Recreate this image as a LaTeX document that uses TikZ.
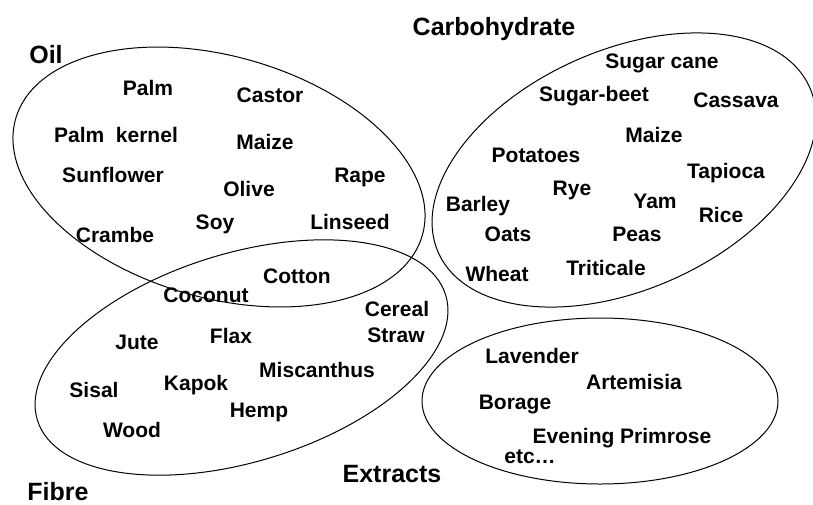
\documentclass[tikz,border=0pt]{standalone}
\usepackage{fontspec}
\setmainfont{Liberation Sans}
\begin{document}
\begin{tikzpicture}[x=1pt,y=-1pt,
  item/.style={anchor=base,inner sep=0pt,font=\fontsize{21}{24}\selectfont\bfseries},
  group/.style={anchor=base,inner sep=0pt,font=\fontsize{25}{28}\selectfont\bfseries},
  ring/.style={draw=black,line width=1pt}]
\useasboundingbox[fill=white] (0,0) rectangle (813,504);
% ellipses
\draw[ring,rotate around={-16:(219,177)}] (219,177) ellipse [x radius=211.5,y radius=120.8];
\draw[ring,rotate around={17:(241.5,357.5)}] (241.5,357.5) ellipse [x radius=213.5,y radius=104.3];
\draw[ring,rotate around={24:(624,170)}] (624,170) ellipse [x radius=203.2,y radius=119.7];
\draw[ring] (600,401) ellipse [x radius=178,y radius=83];
% group labels
\node[group] (oil) at (46,63) {Oil};
\node[group] (carb) at (494,35) {Carbohydrate};
\node[group] (extr) at (392,482) {Extracts};
\node[group] (fibre) at (58,500) {Fibre};
% oil
\node[item] (palm) at (148,95) {Palm};
\node[item] (castor) at (270,102) {Castor};
\node[item] (palmk) at (116,142) {Palm\ \ kernel};
\node[item] (maizeo) at (265,149) {Maize};
\node[item] (sunfl) at (113,182) {Sunflower};
\node[item] (rape) at (360,182) {Rape};
\node[item] (olive) at (249,196) {Olive};
\node[item] (soy) at (215,229) {Soy};
\node[item] (linseed) at (350,229) {Linseed};
\node[item] (crambe) at (115,242) {Crambe};
\node[item] (cotton) at (297,283) {Cotton};
\node[item] (coconut) at (206,302) {Coconut};
% fibre
\node[item] (cereal) at (397,316) {Cereal};
\node[item] (straw) at (396,342) {Straw};
\node[item] (jute) at (137,349) {Jute};
\node[item] (flax) at (231,343) {Flax};
\node[item] (misc) at (317,377) {Miscanthus};
\node[item] (sisal) at (94,397) {Sisal};
\node[item] (kapok) at (196,390) {Kapok};
\node[item] (hemp) at (259,417) {Hemp};
\node[item] (wood) at (132,437) {Wood};
% carbohydrate
\node[item] (sugarc) at (662,68) {Sugar cane};
\node[item] (sugarb) at (594,101) {Sugar-beet};
\node[item] (cassava) at (736,107) {Cassava};
\node[item] (maizec) at (654,142) {Maize};
\node[item] (potatoes) at (536,162) {Potatoes};
\node[item] (tapioca) at (726,178) {Tapioca};
\node[item] (rye) at (572,195) {Rye};
\node[item] (barley) at (478,211) {Barley};
\node[item] (yam) at (655,208) {Yam};
\node[item] (rice) at (721,222) {Rice};
\node[item] (oats) at (508,241) {Oats};
\node[item] (peas) at (637,241) {Peas};
\node[item] (wheat) at (497,281) {Wheat};
\node[item] (triticale) at (606,275) {Triticale};
% extracts
\node[item] (lavender) at (532,363) {Lavender};
\node[item] (artemisia) at (634,389) {Artemisia};
\node[item] (borage) at (515,409) {Borage};
\node[item] (evening) at (622,443) {Evening Primrose};
\node[item] (etc) at (530,463) {etc\ldots};
\end{tikzpicture}
\end{document}
